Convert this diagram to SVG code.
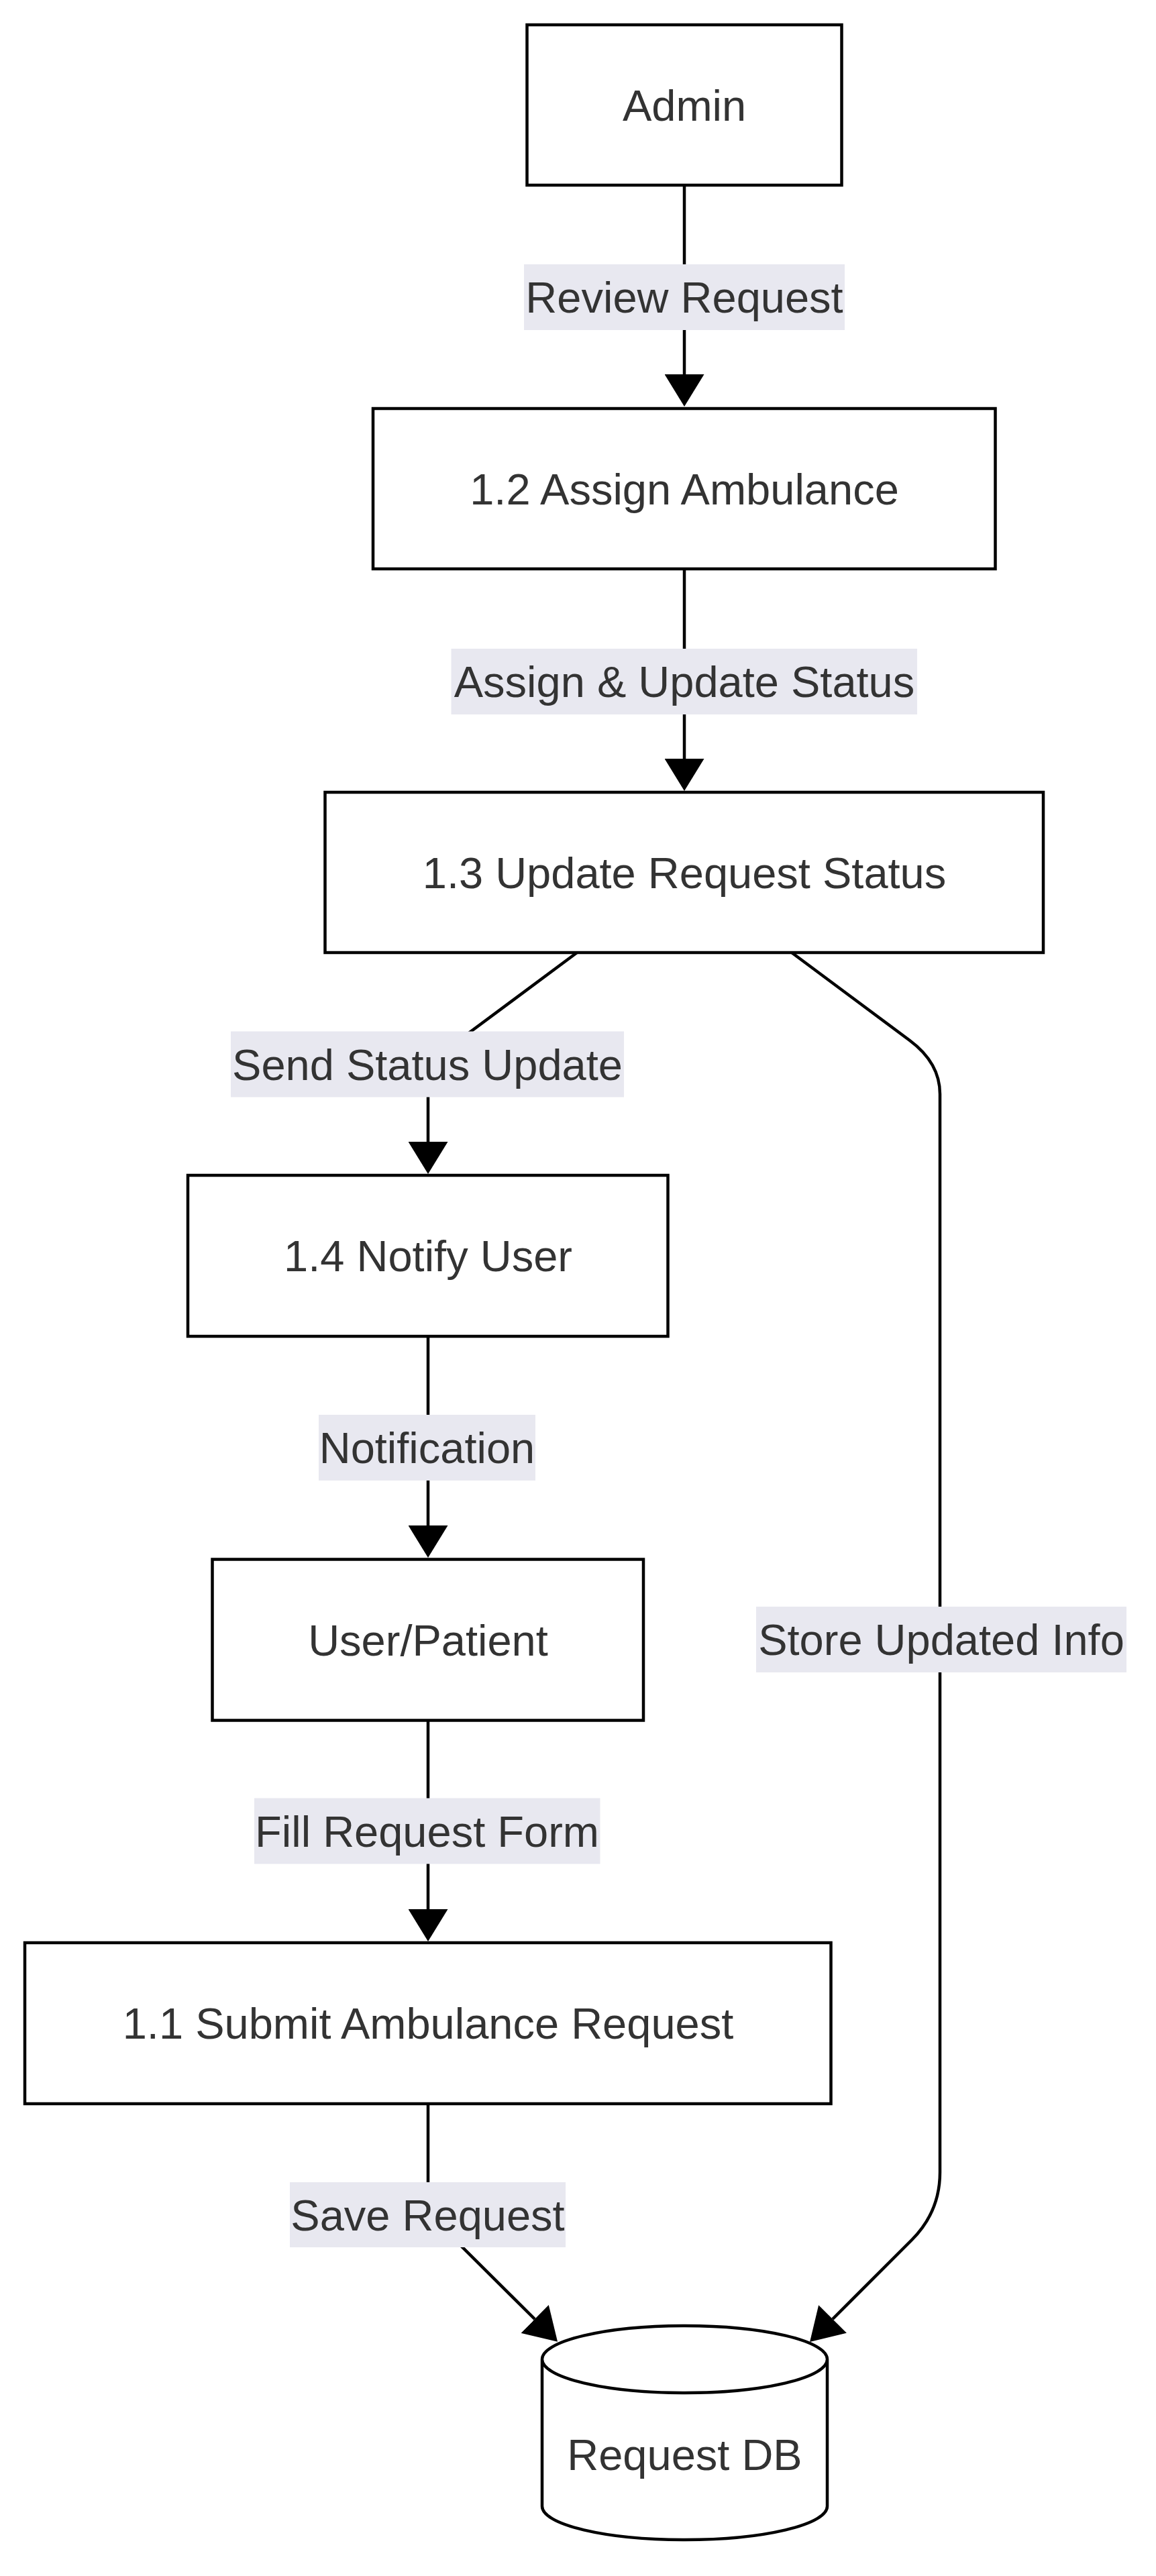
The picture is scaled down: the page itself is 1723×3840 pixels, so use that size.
<svg xmlns="http://www.w3.org/2000/svg" width="1723" height="3840" viewBox="0 0 1723 3840">
<style>
.node{fill:#ffffff;stroke:#000000;stroke-width:4.5}
.edge{fill:none;stroke:#000000;stroke-width:4.5}
.lbl{fill:#e8e8f0}
text{font-family:"Liberation Sans",Arial,sans-serif;font-size:65px;fill:#333333;text-anchor:middle}
</style>
<defs>
<marker id="arrow" viewBox="0 0 48 59" refX="0" refY="29.5" markerWidth="48" markerHeight="59" markerUnits="userSpaceOnUse" orient="auto">
<path d="M0,0 L48,29.5 L0,59 z" fill="#000000"/>
</marker>
</defs>
<rect width="1723" height="3840" fill="#ffffff"/>
<g id="connectors">
<path class="edge" d="M1020,276 L1020,558" marker-end="url(#arrow)"/>
<path class="edge" d="M1020,848 L1020,1131" marker-end="url(#arrow)"/>
<path class="edge" d="M860,1420 L638,1585 L638,1702" marker-end="url(#arrow)"/>
<path class="edge" d="M638,1992 L638,2274" marker-end="url(#arrow)"/>
<path class="edge" d="M638,2565 L638,2846" marker-end="url(#arrow)"/>
<path class="edge" d="M638,3136 L638,3299 L797,3457" marker-end="url(#arrow)"/>
<path class="edge" d="M1180,1420 L1356,1551 Q1401,1584.5 1401,1631 L1401,3238 Q1401,3297 1359,3339 L1241,3457" marker-end="url(#arrow)"/>
<g id="edge-labels">
<rect class="lbl" x="781" y="394" width="478" height="98"/>
<text x="1020" y="466">Review Request</text>
<rect class="lbl" x="672.5" y="967" width="694.5" height="98"/>
<text x="1020" y="1039">Assign &amp; Update Status</text>
<rect class="lbl" x="344" y="1537.5" width="586" height="98"/>
<text x="637" y="1609.5">Send Status Update</text>
<rect class="lbl" x="475" y="2109" width="323" height="98"/>
<text x="636.5" y="2181">Notification</text>
<rect class="lbl" x="1127" y="2395" width="552" height="98"/>
<text x="1403" y="2467">Store Updated Info</text>
<rect class="lbl" x="379" y="2680.5" width="515.5" height="98"/>
<text x="636.5" y="2752.5">Fill Request Form</text>
<rect class="lbl" x="432" y="3253" width="411" height="97"/>
<text x="637.5" y="3324.5">Save Request</text>
</g>
</g>
<g id="node-admin">
<rect class="node" x="785.5" y="37" width="469" height="239"/>
<text x="1020" y="179.5">Admin</text>
</g>
<g id="node-1-2">
<rect class="node" x="556" y="609" width="927.5" height="239"/>
<text x="1020" y="751.5">1.2 Assign Ambulance</text>
</g>
<g id="node-1-3">
<rect class="node" x="484.5" y="1181" width="1070.5" height="239"/>
<text x="1020" y="1323.5">1.3 Update Request Status</text>
</g>
<g id="node-1-4">
<rect class="node" x="280" y="1752" width="715.5" height="240"/>
<text x="638" y="1895">1.4 Notify User</text>
</g>
<g id="node-user">
<rect class="node" x="316.5" y="2324.5" width="642.5" height="240"/>
<text x="638" y="2467.5">User/Patient</text>
</g>
<g id="node-1-1">
<rect class="node" x="37" y="2896" width="1201.5" height="240"/>
<text x="638" y="3039">1.1 Submit Ambulance Request</text>
</g>
<g id="node-db">
<path class="node" d="M808,3517 a212.5,50 0 0,0 425,0 a212.5,50 0 0,0 -425,0 l0,219 a212.5,50 0 0,0 425,0 l0,-219"/>
<text x="1020.5" y="3682">Request DB</text>
</g>
</svg>
